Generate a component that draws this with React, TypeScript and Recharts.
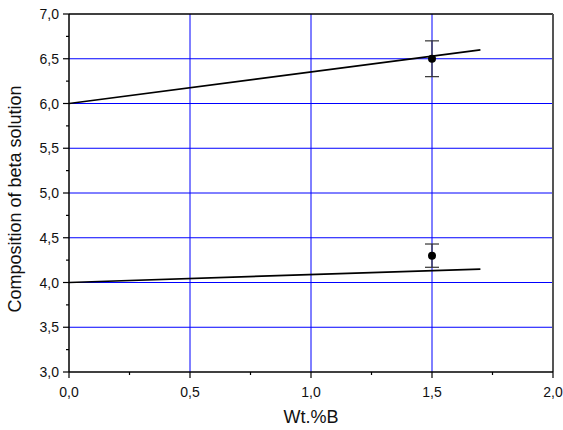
import React from "react";
import {
  ComposedChart,
  XAxis,
  YAxis,
  CartesianGrid,
  Line,
  Scatter,
  ErrorBar,
  ReferenceLine,
} from "recharts";

// axis ticks (major + minor)
const xTicks = [0, 0.25, 0.5, 0.75, 1, 1.25, 1.5, 1.75, 2];
const xMajor = [0, 0.5, 1, 1.5, 2];
const yTicks = [3, 3.25, 3.5, 3.75, 4, 4.25, 4.5, 4.75, 5, 5.25, 5.5, 5.75, 6, 6.25, 6.5, 6.75, 7];
const yMajor = [3, 3.5, 4, 4.5, 5, 5.5, 6, 6.5, 7];
const xGrid = [0.5, 1, 1.5];
const yGrid = [3.5, 4, 4.5, 5, 5.5, 6, 6.5];

// fitted lines
const lineX = [0, 1.7];
const upperY = [6.0, 6.6];
const lowerY = [4.0, 4.15];

// measured points
const pointX = [1.5, 1.5];
const pointY = [6.5, 4.3];
const pointErr = [0.2, 0.13];

const upperLine = lineX.map((x, i) => ({ x, y: upperY[i] }));
const lowerLine = lineX.map((x, i) => ({ x, y: lowerY[i] }));
const points = pointX.map((x, i) => ({ x, y: pointY[i], err: pointErr[i] }));

const FONT = "'Liberation Sans', Arial, sans-serif";

const isMajor = (v: number, list: number[]) =>
  list.some((m) => Math.abs(m - v) < 1e-6);
const fmt = (v: number) => v.toFixed(1).replace(".", ",");

const XTick = (props: any) => {
  const { x, y, payload } = props;
  const major = isMajor(payload.value, xMajor);
  return (
    <g>
      <line x1={x} x2={x} y1={y} y2={y + (major ? 6 : 3)} stroke="#000" strokeWidth={1.2} />
      {major && (
        <text x={x} y={y + 25} textAnchor="middle" fontSize={14} fontFamily={FONT} fill="#111">
          {fmt(payload.value)}
        </text>
      )}
    </g>
  );
};

const YTick = (props: any) => {
  const { x, y, payload } = props;
  const major = isMajor(payload.value, yMajor);
  return (
    <g>
      <line x1={x - (major ? 6 : 3)} x2={x} y1={y} y2={y} stroke="#000" strokeWidth={1.2} />
      {major && (
        <text x={x - 10} y={y + 5} textAnchor="end" fontSize={14} fontFamily={FONT} fill="#111">
          {fmt(payload.value)}
        </text>
      )}
    </g>
  );
};

export default function App() {
  return (
    <div style={{ position: "absolute", left: 0, top: 0, background: "#fff" }}>
      <ComposedChart
        width={563}
        height={430}
        margin={{ top: 14, right: 10, left: 0, bottom: 0 }}
      >
        <CartesianGrid
          stroke="#0000ff"
          strokeWidth={1}
          horizontalValues={yGrid}
          verticalValues={xGrid}
        />
        <XAxis
          dataKey="x"
          type="number"
          domain={[0, 2]}
          ticks={xTicks}
          interval={0}
          height={58}
          tickSize={0}
          tickMargin={0}
          tickLine={false}
          tick={<XTick />}
          axisLine={{ stroke: "#000", strokeWidth: 1.5 }}
          allowDataOverflow
          label={(p: any) => {
            const vb = p.viewBox || {};
            return (
              <text
                x={vb.x + vb.width / 2}
                y={vb.y + 51}
                textAnchor="middle"
                fontSize={18}
                fontFamily={FONT}
                fill="#111"
              >
                Wt.%B
              </text>
            );
          }}
        />
        <YAxis
          dataKey="y"
          type="number"
          domain={[3, 7]}
          ticks={yTicks}
          interval={0}
          width={69}
          tickSize={0}
          tickMargin={0}
          tickLine={false}
          tick={<YTick />}
          axisLine={{ stroke: "#000", strokeWidth: 1.5 }}
          allowDataOverflow
          label={(p: any) => {
            const vb = p.viewBox || {};
            const cy = vb.y + vb.height / 2 + 6;
            return (
              <text
                x={15}
                y={cy}
                textAnchor="middle"
                dominantBaseline="central"
                fontSize={18}
                fontFamily={FONT}
                fill="#111"
                transform={`rotate(-90, 15, ${cy})`}
              >
                Composition of beta solution
              </text>
            );
          }}
        />
        {/* top and right frame */}
        <ReferenceLine y={7} stroke="#000" strokeWidth={1.3} />
        <ReferenceLine x={2} stroke="#555" strokeWidth={2} />
        <Line
          data={upperLine}
          dataKey="y"
          type="linear"
          stroke="#000"
          strokeWidth={1.7}
          dot={false}
          isAnimationActive={false}
        />
        <Line
          data={lowerLine}
          dataKey="y"
          type="linear"
          stroke="#000"
          strokeWidth={1.7}
          dot={false}
          isAnimationActive={false}
        />
        <Scatter
          data={points}
          dataKey="y"
          fill="#000"
          isAnimationActive={false}
          shape={(p: any) => <circle cx={p.cx} cy={p.cy} r={4} fill="#000" />}
        >
          <ErrorBar dataKey="err" direction="y" width={7} stroke="#333" strokeWidth={1.2} />
        </Scatter>
      </ComposedChart>
    </div>
  );
}
